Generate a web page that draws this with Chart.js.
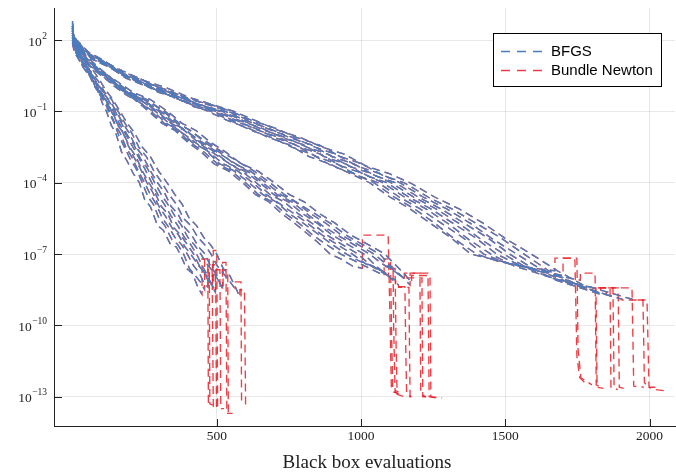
<!DOCTYPE html>
<html>
<head>
<meta charset="utf-8">
<script src="https://cdn.jsdelivr.net/npm/chart.js@4.4.1/dist/chart.umd.min.js"></script>
<style>
  html, body { margin: 0; padding: 0; background: #fff; }
  canvas { display: block; }
</style>
</head>
<body>
<canvas id="chart" width="676" height="473"></canvas>
<script>
// Values are [black box evaluations, log10 of the objective gap].
var xTicks = [500, 1000, 1500, 2000];
var yTickExps = [2, -1, -4, -7, -10, -13];
var seriesNames = ['BFGS', 'Bundle Newton'];

// fast group (left)
var steepRuns = [
  [[0,2.6],[4,2.1],[12,1.7],[30,1.2],[50,0.8],[70,0.2],[90,-0.2],[105,-0.7],[118,-1.0],[135,-1.6],[150,-1.9],[170,-2.7],[190,-3.1],[210,-3.6],[232,-4.0],[250,-4.7],[270,-5.0],[295,-5.8],[315,-6.0],[340,-6.6],[360,-6.7],[373,-7.0],[395,-7.6],[415,-7.8],[435,-8.4],[449,-8.7]],
  [[0,2.2],[5,1.8],[15,1.6],[35,1.0],[60,0.6],[80,0.0],[100,-0.4],[112,-0.6],[125,-1.0],[145,-1.5],[160,-2.0],[180,-2.5],[200,-3.0],[220,-3.4],[242,-4.0],[262,-4.6],[280,-4.9],[300,-5.5],[320,-5.8],[345,-6.4],[365,-6.6],[385,-7.0],[405,-7.6],[425,-7.9],[445,-8.2],[458,-8.5]],
  [[0,2.8],[3,2.3],[10,2.0],[30,1.4],[50,0.9],[75,0.4],[95,-0.2],[112,-0.5],[128,-1.0],[150,-1.6],[165,-1.9],[185,-2.5],[205,-2.9],[228,-3.5],[250,-4.0],[270,-4.5],[290,-4.9],[312,-5.5],[335,-5.9],[355,-6.3],[378,-6.6],[398,-7.0],[420,-7.5],[440,-7.8],[455,-8.2],[470,-8.4]],
  [[0,2.3],[5,1.9],[14,1.5],[35,1.1],[60,0.5],[85,0.1],[105,-0.3],[122,-0.7],[138,-1.0],[158,-1.6],[176,-1.9],[198,-2.5],[220,-2.9],[242,-3.5],[265,-4.0],[285,-4.4],[308,-5.0],[330,-5.3],[352,-5.9],[375,-6.2],[398,-6.6],[420,-7.0],[440,-7.5],[458,-7.8],[475,-8.1],[488,-8.4]],
  [[0,1.9],[6,1.5],[16,1.3],[40,0.8],[65,0.4],[90,-0.1],[110,-0.4],[126,-0.7],[142,-1.0],[162,-1.5],[182,-1.9],[205,-2.4],[228,-2.9],[250,-3.4],[275,-4.0],[296,-4.5],[318,-4.9],[342,-5.4],[365,-5.8],[388,-6.3],[410,-6.6],[430,-7.0],[450,-7.5],[468,-7.9],[482,-8.3],[495,-8.6]],
  [[0,2.5],[4,2.0],[12,1.8],[35,1.2],[60,0.7],[85,0.2],[108,-0.2],[128,-0.6],[148,-1.0],[170,-1.5],[190,-2.0],[213,-2.4],[236,-3.0],[260,-3.4],[285,-4.0],[308,-4.5],[330,-4.9],[355,-5.4],[378,-5.8],[400,-6.3],[422,-6.6],[445,-7.0],[465,-7.4],[485,-7.7],[505,-8.1],[520,-8.4]],
  [[0,2.1],[5,1.7],[15,1.4],[40,1.0],[65,0.5],[90,0.1],[112,-0.3],[132,-0.6],[152,-1.0],[175,-1.5],[196,-1.9],[220,-2.5],[245,-2.9],[270,-3.5],[295,-4.0],[318,-4.4],[342,-5.0],[365,-5.3],[390,-5.9],[413,-6.2],[437,-6.7],[460,-7.0],[478,-7.5],[495,-7.8],[510,-8.2],[522,-8.5]],
  [[0,2.4],[4,1.9],[12,1.7],[38,1.2],[62,0.7],[88,0.3],[112,-0.2],[136,-0.5],[158,-1.0],[182,-1.5],[205,-1.9],[230,-2.5],[256,-2.9],[282,-3.5],[310,-4.0],[335,-4.5],[360,-4.9],[385,-5.5],[410,-5.8],[435,-6.3],[458,-6.6],[480,-7.0],[502,-7.5],[522,-7.8],[542,-8.1],[560,-8.4]],
  [[0,2.7],[3,2.2],[10,2.0],[35,1.4],[62,0.9],[90,0.4],[115,-0.1],[140,-0.5],[165,-1.0],[190,-1.5],[215,-1.9],[242,-2.5],[270,-2.9],[298,-3.5],[328,-4.0],[355,-4.5],[380,-4.9],[405,-5.5],[430,-5.8],[455,-6.3],[478,-6.6],[500,-7.0],[522,-7.6],[545,-7.9],[565,-8.4],[580,-8.8]],
  [[0,2.0],[6,1.6],[15,1.4],[35,0.9],[60,0.5],[85,0.0],[105,-0.4],[120,-0.6],[135,-1.0],[155,-1.5],[172,-1.8],[192,-2.4],[212,-2.9],[235,-3.4],[258,-4.0],[278,-4.4],[300,-5.0],[322,-5.4],[345,-5.9],[368,-6.2],[390,-6.7],[410,-7.0],[432,-7.4],[452,-7.7],[470,-8.1],[485,-8.3]]
];
var steepTails = [
  [[449,-7.2],[469,-7.2],[471,-13.25],[478,-13.3]],
  [[458,-7.2],[474,-7.2],[476,-13.3],[486,-13.35]],
  [[470,-7.6],[484,-7.6],[488,-13.4],[496,-13.5]],
  [[488,-6.85],[500,-6.85],[503,-13.4],[515,-13.55]],
  [[495,-7.66],[511,-7.66],[514,-13.5],[525,-13.5]],
  [[520,-7.35],[532,-7.35],[535,-13.7],[555,-13.7]],
  [[522,-7.66],[538,-7.66],[540,-13.7],[548,-13.7]],
  [[560,-8.17],[584,-8.17],[586,-13.3],[592,-13.3]],
  [[580,-8.5],[596,-8.5],[600,-13.3],[606,-13.35]],
  [[485,-7.45],[496,-7.45],[499,-13.4],[506,-13.4]]
];

// middle group
var midRuns = [
  [[0,2.4],[5,1.9],[15,1.7],[50,1.2],[90,0.8],[130,0.3],[170,-0.1],[215,-0.5],[265,-1.0],[310,-1.5],[355,-1.8],[400,-2.3],[445,-2.7],[490,-3.2],[540,-3.5],[590,-4.0],[635,-4.5],[680,-4.8],[725,-5.3],[770,-5.7],[810,-6.1],[850,-6.5],[893,-7.0],[930,-7.2],[970,-7.5],[1005,-7.6]],
  [[0,2.1],[6,1.7],[20,1.5],[55,1.0],[95,0.6],[140,0.1],[185,-0.3],[230,-0.6],[280,-1.0],[325,-1.5],[370,-1.8],[415,-2.3],[460,-2.6],[510,-3.2],[560,-3.5],[612,-4.0],[660,-4.5],[705,-4.8],[752,-5.3],[800,-5.7],[845,-6.1],[900,-6.6],[950,-7.0],[995,-7.3],[1040,-7.5],[1085,-7.8]],
  [[0,2.5],[4,2.0],[12,1.8],[48,1.2],[92,0.7],[138,0.3],[185,-0.2],[235,-0.5],[288,-1.0],[335,-1.5],[380,-1.9],[425,-2.3],[472,-2.7],[522,-3.2],[572,-3.5],[625,-4.0],[672,-4.5],[720,-4.9],[768,-5.3],[815,-5.7],[865,-6.2],[918,-6.6],[970,-7.0],[1015,-7.4],[1055,-7.6],[1095,-7.9]],
  [[0,2.0],[7,1.6],[22,1.4],[60,0.9],[100,0.5],[145,0.1],[195,-0.3],[245,-0.6],[295,-1.0],[342,-1.5],[388,-1.8],[435,-2.3],[482,-2.7],[532,-3.1],[585,-3.5],[637,-4.0],[685,-4.5],[733,-4.8],[782,-5.3],[830,-5.7],[882,-6.2],[935,-6.6],[990,-7.0],[1035,-7.5],[1078,-7.8],[1120,-8.1]],
  [[0,2.3],[5,1.9],[15,1.7],[52,1.1],[95,0.7],[142,0.2],[192,-0.2],[245,-0.5],[300,-1.0],[348,-1.5],[395,-1.8],[442,-2.3],[492,-2.7],[543,-3.2],[595,-3.5],[650,-4.0],[698,-4.5],[748,-4.8],[798,-5.3],[848,-5.7],[900,-6.2],[955,-6.6],[1010,-7.0],[1052,-7.5],[1092,-7.9],[1130,-8.3]],
  [[0,2.2],[6,1.8],[20,1.6],[55,1.0],[100,0.6],[148,0.2],[198,-0.3],[252,-0.6],[308,-1.0],[355,-1.5],[402,-1.9],[450,-2.3],[500,-2.7],[552,-3.1],[605,-3.5],[660,-4.0],[710,-4.5],[760,-4.8],[812,-5.3],[865,-5.8],[918,-6.2],[975,-6.6],[1030,-7.0],[1072,-7.4],[1112,-7.7],[1150,-8.0]],
  [[0,2.6],[4,2.1],[12,1.9],[50,1.3],[95,0.8],[145,0.3],[200,-0.2],[258,-0.5],[315,-1.0],[362,-1.5],[410,-1.8],[458,-2.3],[508,-2.7],[560,-3.2],[615,-3.5],[672,-4.0],[722,-4.5],[772,-4.8],[825,-5.3],[878,-5.7],[932,-6.2],[990,-6.6],[1045,-7.0],[1085,-7.4],[1124,-7.8],[1160,-8.1]],
  [[0,1.9],[8,1.5],[25,1.3],[62,0.9],[108,0.5],[158,0.1],[210,-0.3],[265,-0.6],[322,-1.0],[370,-1.5],[418,-1.9],[468,-2.3],[518,-2.7],[572,-3.1],[628,-3.5],[685,-4.0],[735,-4.5],[787,-4.9],[840,-5.3],[893,-5.7],[948,-6.2],[1006,-6.6],[1065,-7.0],[1102,-7.5],[1138,-7.9],[1170,-8.3]],
  [[0,2.3],[5,1.9],[15,1.8],[52,1.2],[98,0.7],[150,0.3],[210,-0.2],[270,-0.5],[330,-1.0],[380,-1.5],[428,-1.8],[478,-2.3],[530,-2.7],[585,-3.2],[642,-3.5],[700,-4.0],[752,-4.5],[803,-4.8],[856,-5.3],[910,-5.7],[965,-6.2],[1025,-6.6],[1083,-7.0],[1115,-7.4],[1148,-7.8],[1175,-8.2]],
  [[0,2.4],[5,1.9],[15,1.7],[50,1.2],[90,0.8],[132,0.3],[175,-0.1],[222,-0.5],[272,-1.0],[318,-1.5],[362,-1.8],[408,-2.3],[455,-2.7],[502,-3.2],[550,-3.5],[600,-4.0],[645,-4.5],[692,-4.8],[738,-5.3],[785,-5.7],[832,-6.2],[880,-6.6],[930,-7.0],[980,-7.3],[1030,-7.6],[1080,-7.9]]
];
var midTails = [
  [[1005,-6.2],[1094,-6.2],[1100,-9.5],[1105,-12.6],[1112,-12.8],[1125,-12.85]],
  [[1085,-7.52],[1111,-7.52],[1113,-10.0],[1118,-12.8],[1135,-12.9]],
  [[1095,-7.6],[1118,-7.6],[1121,-10.5],[1125,-12.9],[1150,-13.0]],
  [[1120,-8.37],[1152,-8.37],[1155,-11.0],[1158,-12.9],[1175,-13.0]],
  [[1130,-8.4],[1166,-8.4],[1168,-11.0],[1170,-13.0],[1190,-13.0]],
  [[1150,-7.8],[1204,-7.8],[1207,-12.9],[1225,-13.0]],
  [[1160,-8.0],[1211,-8.0],[1214,-13.0],[1235,-13.0]],
  [[1170,-7.8],[1232,-7.8],[1236,-13.0],[1260,-13.05]],
  [[1175,-7.9],[1239,-7.9],[1242,-13.0],[1281,-13.05]],
  [[1080,-7.2],[1102,-7.2],[1106,-10.5],[1110,-12.7],[1130,-12.8]]
];

// slow group (right)
var flatRuns = [
  [[0,2.5],[4,2.1],[20,1.9],[60,1.4],[110,1.1],[170,0.6],[230,0.3],[290,-0.1],[350,-0.4],[410,-0.7],[470,-1.0],[540,-1.4],[610,-1.7],[680,-2.1],[750,-2.4],[820,-2.9],[890,-3.2],[960,-3.6],[1030,-4.0],[1100,-4.6],[1170,-5.1],[1240,-5.7],[1310,-6.3],[1380,-7.0],[1450,-7.2],[1520,-7.4],[1600,-7.6],[1672,-7.7]],
  [[0,2.2],[5,1.9],[22,1.7],[62,1.3],[115,1.0],[175,0.5],[238,0.2],[298,-0.2],[358,-0.4],[420,-0.8],[480,-1.0],[550,-1.4],[620,-1.8],[690,-2.1],[760,-2.5],[830,-2.8],[900,-3.3],[972,-3.6],[1045,-4.0],[1115,-4.6],[1185,-5.1],[1255,-5.7],[1328,-6.4],[1400,-7.0],[1475,-7.3],[1550,-7.5],[1625,-7.7],[1700,-7.9]],
  [[0,2.3],[4,2.0],[20,1.8],[60,1.4],[105,1.1],[168,0.6],[232,0.2],[300,-0.1],[365,-0.5],[428,-0.7],[490,-1.0],[560,-1.4],[632,-1.7],[702,-2.1],[772,-2.4],[845,-2.9],[915,-3.2],[988,-3.7],[1060,-4.0],[1132,-4.6],[1205,-5.1],[1278,-5.7],[1352,-6.3],[1425,-7.0],[1510,-7.4],[1590,-7.6],[1675,-7.9],[1760,-8.1]],
  [[0,2.0],[6,1.7],[25,1.6],[68,1.2],[125,0.9],[185,0.4],[248,0.1],[312,-0.2],[375,-0.5],[438,-0.8],[500,-1.0],[572,-1.4],[645,-1.8],[717,-2.1],[788,-2.5],[860,-2.8],[932,-3.3],[1005,-3.6],[1075,-4.0],[1150,-4.6],[1225,-5.1],[1300,-5.7],[1375,-6.4],[1450,-7.0],[1530,-7.5],[1610,-7.8],[1690,-8.1],[1760,-8.3]],
  [[0,2.6],[3,2.2],[15,2.0],[55,1.5],[100,1.2],[165,0.7],[230,0.4],[300,0.0],[370,-0.4],[440,-0.7],[510,-1.0],[582,-1.4],[655,-1.7],[728,-2.1],[800,-2.4],[872,-2.9],[945,-3.2],[1018,-3.7],[1090,-4.0],[1165,-4.6],[1242,-5.1],[1318,-5.7],[1395,-6.3],[1470,-7.0],[1555,-7.5],[1640,-7.8],[1722,-8.2],[1800,-8.4]],
  [[0,2.3],[5,2.0],[22,1.8],[62,1.3],[110,1.0],[172,0.6],[240,0.2],[310,-0.1],[380,-0.4],[450,-0.8],[520,-1.0],[593,-1.4],[666,-1.8],[740,-2.1],[812,-2.5],[885,-2.8],[958,-3.3],[1032,-3.6],[1105,-4.0],[1182,-4.6],[1260,-5.1],[1338,-5.7],[1418,-6.4],[1495,-7.0],[1578,-7.6],[1660,-8.0],[1742,-8.3],[1820,-8.6]],
  [[0,2.1],[6,1.8],[25,1.7],[68,1.2],[120,0.9],[182,0.5],[250,0.1],[322,-0.2],[392,-0.5],[462,-0.8],[530,-1.0],[604,-1.4],[678,-1.7],[752,-2.1],[826,-2.4],[900,-2.9],[974,-3.2],[1048,-3.7],[1120,-4.0],[1198,-4.6],[1277,-5.1],[1357,-5.7],[1437,-6.3],[1515,-7.0],[1595,-7.6],[1675,-8.1],[1755,-8.4],[1830,-8.7]],
  [[0,2.4],[4,2.1],[20,1.9],[60,1.4],[110,1.1],[175,0.6],[245,0.3],[318,-0.1],[392,-0.4],[466,-0.7],[540,-1.0],[615,-1.4],[690,-1.8],[765,-2.1],[840,-2.5],[913,-2.8],[987,-3.3],[1062,-3.6],[1135,-4.0],[1215,-4.6],[1297,-5.1],[1378,-5.7],[1460,-6.4],[1540,-7.0],[1618,-7.6],[1695,-8.0],[1772,-8.4],[1850,-8.7]],
  [[0,2.2],[5,1.9],[24,1.7],[66,1.3],[120,1.0],[185,0.5],[255,0.2],[330,-0.1],[405,-0.5],[478,-0.7],[550,-1.0],[626,-1.4],[702,-1.7],[778,-2.1],[853,-2.4],[928,-2.9],[1002,-3.2],[1077,-3.7],[1150,-4.0],[1232,-4.6],[1315,-5.1],[1398,-5.7],[1482,-6.3],[1565,-7.0],[1650,-7.7],[1735,-8.2],[1820,-8.6],[1905,-8.9]],
  [[0,2.5],[4,2.1],[18,1.9],[58,1.4],[108,1.1],[175,0.7],[248,0.3],[325,0.0],[402,-0.4],[482,-0.7],[560,-1.0],[637,-1.4],[714,-1.8],[790,-2.1],[866,-2.5],[942,-2.8],[1018,-3.3],[1094,-3.6],[1170,-4.0],[1255,-4.6],[1340,-5.1],[1423,-5.7],[1507,-6.4],[1590,-7.0],[1680,-7.7],[1770,-8.3],[1855,-8.6],[1940,-8.9]]
];
var flatTails = [
  [[1672,-7.17],[1741,-7.17],[1745,-9.5],[1748,-11.3],[1758,-12.2],[1775,-12.4],[1790,-12.45]],
  [[1700,-7.17],[1748,-7.17],[1752,-11.0],[1762,-12.2],[1800,-12.5]],
  [[1760,-7.8],[1811,-7.8],[1815,-12.5],[1830,-12.6]],
  [[1760,-8.42],[1814,-8.42],[1818,-12.6],[1840,-12.65]],
  [[1800,-8.42],[1863,-8.42],[1866,-12.6],[1880,-12.65]],
  [[1820,-8.42],[1873,-8.42],[1877,-12.65],[1890,-12.7]],
  [[1830,-8.42],[1891,-8.42],[1895,-12.6],[1910,-12.65]],
  [[1850,-8.42],[1939,-8.42],[1945,-12.55],[1980,-12.6]],
  [[1905,-8.93],[1977,-8.93],[1982,-12.4],[1995,-12.6],[2020,-12.6]],
  [[1940,-8.93],[1991,-8.93],[1998,-12.6],[2020,-12.7],[2053,-12.75]]
];

(function () {
  'use strict';

  var BLUE = '#4a7dbd';
  var RED = 'rgba(232,28,36,0.85)';
  var DASH = [8, 5];
  var SERIF = '"Liberation Serif", "DejaVu Serif", serif';
  var SANS = '"Liberation Sans", Arial, sans-serif';

  function toPoints(pairs) {
    return pairs.map(function (p) { return { x: p[0], y: Math.pow(10, p[1]) }; });
  }

  function lineSet(label, pairs, color) {
    return {
      label: label,
      data: toPoints(pairs),
      borderColor: color,
      borderWidth: 1.35,
      borderDash: DASH,
      pointRadius: 0,
      tension: 0,
      fill: false
    };
  }

  var allRuns = steepRuns.concat(midRuns, flatRuns);
  var allTails = steepTails.concat(midTails, flatTails);

  // blue first so it is painted on top of the red ones
  var datasets = [];
  allRuns.forEach(function (run) { datasets.push(lineSet(seriesNames[0], run, BLUE)); });
  allRuns.forEach(function (run, i) { datasets.push(lineSet(seriesNames[1], run.concat(allTails[i]), RED)); });

  var decor = {
    id: 'decor',
    afterDraw: function (chart) {
      var ctx = chart.ctx, area = chart.chartArea;
      var xs = chart.scales.x, ys = chart.scales.y;
      ctx.save();

      // inner tick marks
      ctx.strokeStyle = '#222';
      ctx.lineWidth = 1;
      ctx.beginPath();
      yTickExps.forEach(function (e) {
        var py = Math.round(ys.getPixelForValue(Math.pow(10, e))) + 0.5;
        ctx.moveTo(area.left, py); ctx.lineTo(area.left + 8, py);
      });
      xTicks.forEach(function (v) {
        var px = Math.round(xs.getPixelForValue(v)) + 0.5;
        ctx.moveTo(px, area.bottom); ctx.lineTo(px, area.bottom - 7);
      });
      ctx.stroke();

      // y labels: 10 with a raised exponent
      ctx.fillStyle = '#222';
      ctx.textBaseline = 'middle';
      ctx.textAlign = 'right';
      yTickExps.forEach(function (e) {
        var py = ys.getPixelForValue(Math.pow(10, e));
        var sup = e < 0 ? '\u2212' + (-e) : String(e);
        ctx.font = '9.5px ' + SERIF;
        var w = ctx.measureText(sup).width;
        ctx.fillText(sup, 47, py - 4);
        ctx.font = '13.5px ' + SERIF;
        ctx.fillText('10', 47 - w - 0.5, py + 2);
      });

      // x labels
      ctx.textAlign = 'center';
      ctx.font = '13.5px ' + SERIF;
      xTicks.forEach(function (v) {
        ctx.fillText(String(v), xs.getPixelForValue(v), 436);
      });

      // axis title
      ctx.font = '19px ' + SERIF;
      ctx.fillText('Black box evaluations', 367, 463);

      // legend
      ctx.fillStyle = '#fff';
      ctx.fillRect(493.5, 33.5, 168, 53);
      ctx.strokeStyle = '#000';
      ctx.strokeRect(493.5, 33.5, 168, 53);
      var rows = [[seriesNames[0], BLUE, 51.5], [seriesNames[1], RED, 70.5]];
      rows.forEach(function (r) {
        ctx.save();
        ctx.setLineDash([9, 7]);
        ctx.strokeStyle = r[1];
        ctx.lineWidth = 1.3;
        ctx.beginPath();
        ctx.moveTo(501, r[2]); ctx.lineTo(542, r[2]);
        ctx.stroke();
        ctx.restore();
        ctx.fillStyle = '#000';
        ctx.textAlign = 'left';
        ctx.font = '15px ' + SANS;
        ctx.fillText(r[0], 551, r[2] + 0.5);
      });

      ctx.restore();
    }
  };

  new Chart(document.getElementById('chart'), {
    type: 'line',
    data: { datasets: datasets },
    options: {
      responsive: false,
      animation: false,
      layout: { padding: { top: 8, right: 1, left: 0, bottom: 0 } },
      plugins: { legend: { display: false }, tooltip: { enabled: false } },
      scales: {
        x: {
          type: 'linear',
          min: -64,
          max: 2088,
          afterBuildTicks: function (scale) {
            scale.ticks = xTicks.map(function (v) { return { value: v }; });
          },
          afterFit: function (scale) { scale.height = 47; },
          ticks: { display: false },
          grid: { color: 'rgba(0,0,0,0.09)', drawTicks: false },
          border: { display: true, color: '#222', width: 1 }
        },
        y: {
          type: 'logarithmic',
          min: Math.pow(10, -14.23),
          max: Math.pow(10, 3.35),
          afterBuildTicks: function (scale) {
            scale.ticks = yTickExps.map(function (e) { return { value: Math.pow(10, e) }; });
          },
          afterFit: function (scale) { scale.width = 54; },
          ticks: { display: false },
          grid: { color: 'rgba(0,0,0,0.09)', drawTicks: false },
          border: { display: true, color: '#222', width: 1 }
        }
      }
    },
    plugins: [decor]
  });
}());
</script>
</body>
</html>
